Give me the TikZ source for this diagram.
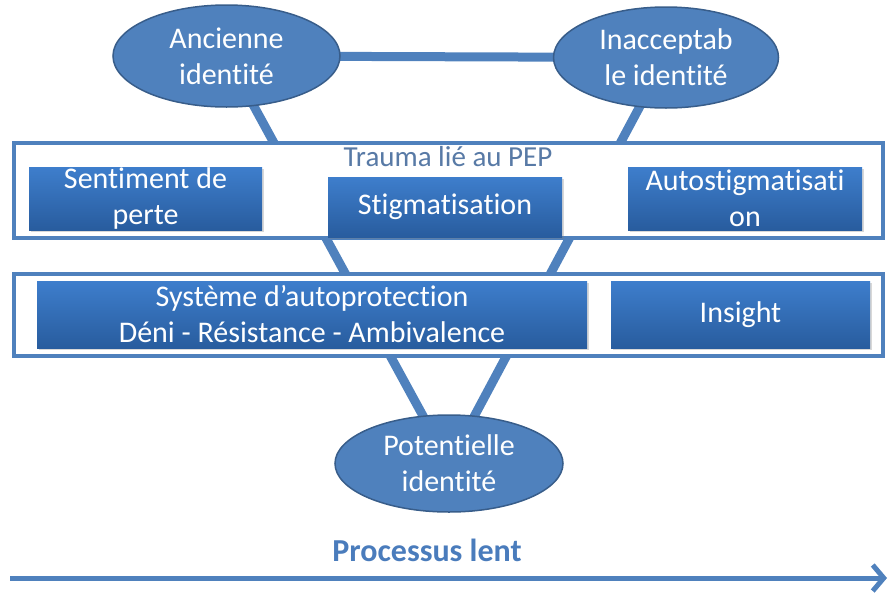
\documentclass[tikz,border=0pt]{standalone}
\usepackage{fontspec}
\setmainfont{Carlito}[Ligatures={NoCommon,NoContextual}]
\usetikzlibrary{shapes.geometric,backgrounds,shadows,arrows.meta}
\definecolor{lineblue}{RGB}{79,129,189}
\definecolor{ellfill}{RGB}{79,129,189}
\definecolor{elldraw}{RGB}{56,93,138}
\definecolor{boxtop}{RGB}{62,126,204}
\definecolor{boxbot}{RGB}{40,92,158}
\definecolor{traumatxt}{RGB}{88,122,166}
\definecolor{proctxt}{RGB}{74,124,188}
\tikzset{
  ident/.style={ellipse, draw=elldraw, line width=1.5pt, fill=ellfill, text=white,
    inner sep=0pt, align=center, font=\fontsize{30}{36}\selectfont},
  frame/.style={draw=lineblue, line width=4pt, fill=white, inner sep=0pt,
    drop shadow={shadow xshift=1.5pt, shadow yshift=-2pt, opacity=0.25}},
  bluebox/.style={top color=boxtop, bottom color=boxbot, text=white, inner sep=0pt,
    align=center, font=\fontsize{30}{36}\selectfont,
    drop shadow={shadow xshift=1.5pt, shadow yshift=-2pt, opacity=0.3}},
  link/.style={draw=lineblue, line width=9pt},
}
\begin{document}
\begin{tikzpicture}[x=1pt, y=-1pt]
\useasboundingbox (0,0) rectangle (889,598);
% ellipses
\node[ident, minimum width=227pt, minimum height=102pt] (anc) at (226.5,56) {Ancienne\\identité};
\node[ident, minimum width=225pt, minimum height=101pt] (inac) at (666,57.5) {Inacceptab\\le identité};
\node[ident, minimum width=228pt, minimum height=97pt] (pot) at (449,463.5) {Potentielle\\identité};
% frames
\node[frame, minimum width=869pt, minimum height=95pt] (trauma) at (448.5,190) {};
\node[frame, minimum width=869pt, minimum height=82pt] (protect) at (448.5,314.5) {};
\node[text=traumatxt, font=\fontsize{29}{34}\selectfont, inner sep=0pt] (tlabel) at (448,157) {Trauma lié au PEP};
% inner boxes
\node[bluebox, minimum width=233pt, minimum height=63pt] (perte) at (145.5,198.5) {Sentiment de\\perte};
\node[bluebox, minimum width=234pt, minimum height=60pt] (stig) at (445,207) {Stigmatisation};
\node[bluebox, minimum width=234pt, minimum height=63pt] (auto) at (745,198.5) {Autostigmatisati\\on};
\node[bluebox, minimum width=550pt, minimum height=67pt] (sys) at (312,314.5) {Système d’autoprotection\\Déni - Résistance - Ambivalence};
\node[bluebox, minimum width=259pt, minimum height=67pt] (insight) at (740.5,314.5) {Insight};
% process
\node[text=proctxt, font=\fontsize{32}{36}\selectfont\bfseries, inner sep=0pt] (proc) at (427,550) {Processus lent};
\coordinate (as) at (10,578);
\coordinate (ae) at (887,578);
\draw[draw=lineblue, line width=5pt, -{Straight Barb[length=11pt, width=26pt]}] (as) -- (ae);
% connectors behind
\begin{pgfonlayer}{background}
\draw[link] (anc.center) -- (inac.center);
\draw[link] (anc.center) -- (pot.center);
\draw[link] (inac.center) -- (pot.center);
\end{pgfonlayer}
\end{tikzpicture}
\end{document}
